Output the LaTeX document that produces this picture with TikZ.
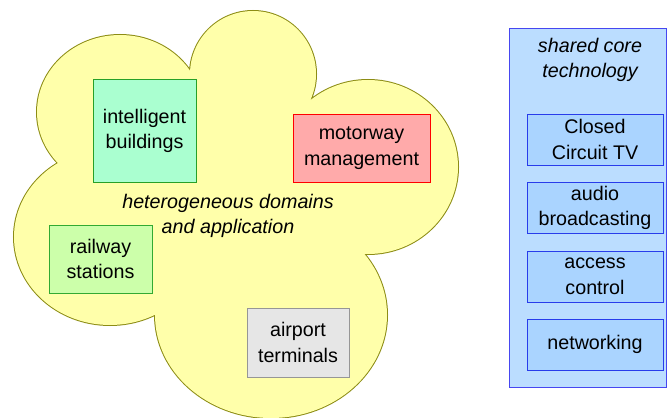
\documentclass[tikz,border=0pt]{standalone}
\usepackage{fontspec}
\setmainfont{Liberation Sans}
\definecolor{cloudfill}{RGB}{255,255,170}
\definecolor{cloudline}{RGB}{140,140,20}
\definecolor{ibfill}{RGB}{170,255,208}
\definecolor{ibline}{RGB}{40,160,40}
\definecolor{mmfill}{RGB}{255,170,170}
\definecolor{mmline}{RGB}{255,0,0}
\definecolor{rsfill}{RGB}{204,255,170}
\definecolor{rsline}{RGB}{50,170,50}
\definecolor{atfill}{RGB}{230,230,230}
\definecolor{atline}{RGB}{150,150,150}
\definecolor{pnfill}{RGB}{187,221,255}
\definecolor{pnline}{RGB}{70,70,240}
\definecolor{tbfill}{RGB}{170,212,255}
\definecolor{tbline}{RGB}{40,60,235}
\begin{document}
\begin{tikzpicture}[x=1pt,y=-1pt,
  txt/.style={align=center,inner sep=0pt,font=\fontsize{19.7}{25.5}\selectfont},
  domain/.style={draw,line width=1pt,minimum width=#1,inner sep=0pt,align=center,font=\fontsize{19.7}{25.5}\selectfont},
  techbox/.style={draw=tbline,fill=tbfill,line width=1pt,minimum width=136pt,minimum height=51pt,inner sep=0pt,align=center,font=\fontsize{19.7}{25.5}\selectfont}]
\useasboundingbox (0,0) rectangle (668,417);
% cloud outline: thick strokes, then fills cover the inner halves
\begin{scope}
\draw[cloudline,line width=2pt]
  (253,74) ellipse [x radius=63pt, y radius=63pt]
  (120,112) ellipse [x radius=83pt, y radius=77pt]
  (110,237) ellipse [x radius=96pt, y radius=88pt]
  (271,315) ellipse [x radius=116pt, y radius=103pt]
  (368,167) ellipse [x radius=90pt, y radius=87pt];
\fill[cloudfill]
  (253,74) ellipse [x radius=63pt, y radius=63pt]
  (120,112) ellipse [x radius=83pt, y radius=77pt]
  (110,237) ellipse [x radius=96pt, y radius=88pt]
  (271,315) ellipse [x radius=116pt, y radius=103pt]
  (368,167) ellipse [x radius=90pt, y radius=87pt];
\fill[cloudfill] (253,74) -- (368,167) -- (271,315) -- (110,237) -- (120,112) -- cycle;
\end{scope}
% domain boxes
\node[domain=103pt,minimum height=102pt,draw=ibline,fill=ibfill] (ib) at (144.5,131) {intelligent\\buildings};
\node[domain=137pt,minimum height=68pt,draw=mmline,fill=mmfill] (mm) at (361.5,148) {motorway\\management};
\node[domain=103pt,minimum height=68pt,draw=rsline,fill=rsfill] (rs) at (100.5,259) {railway\\stations};
\node[domain=102pt,minimum height=69pt,draw=atline,fill=atfill] (at) at (298,342.5) {airport\\terminals};
\node[txt,font=\fontsize{19.7}{25.5}\selectfont\itshape] (het) at (228,216) {heterogeneous domains\\and application};
% shared core technology panel
\node[draw=pnline,fill=pnfill,line width=1pt,minimum width=157.5pt,minimum height=358pt,inner sep=0pt] (panel) at (587.75,208) {};
\node[txt,font=\fontsize{19.7}{25.5}\selectfont\itshape] (ptitle) at (590,60) {shared core\\technology};
\node[techbox] (cctv) at (595,139.5) {Closed\\Circuit TV};
\node[techbox] (audio) at (595,208) {audio\\broadcasting};
\node[techbox] (access) at (595,276.5) {access\\control};
\node[techbox] (net) at (595,344.5) {networking};
\end{tikzpicture}
\end{document}
